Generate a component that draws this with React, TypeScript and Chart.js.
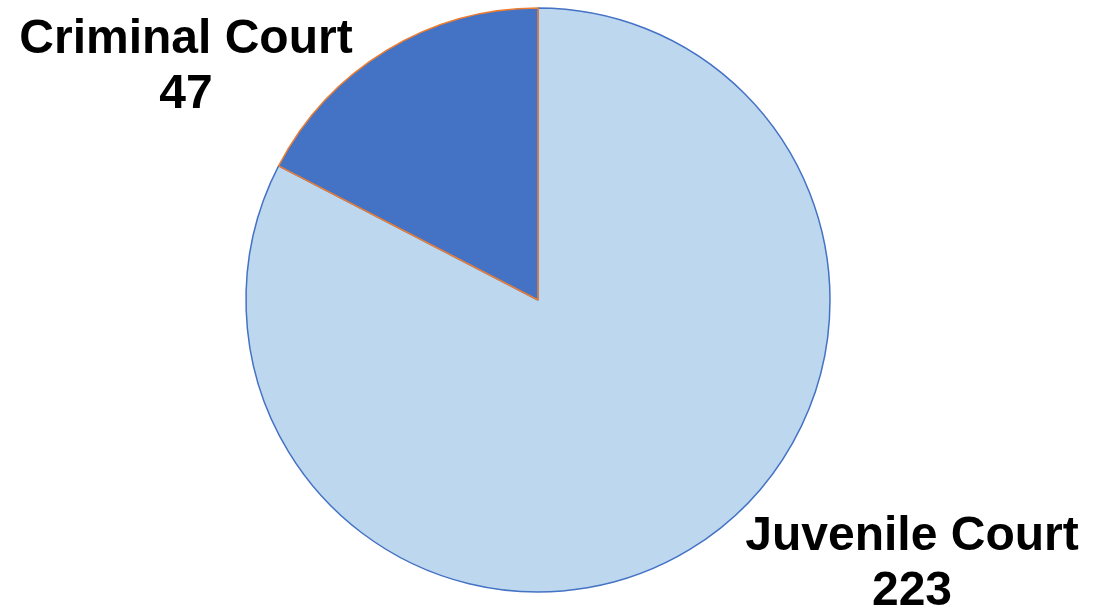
import React, { useEffect, useRef } from "react";
import { Chart, registerables } from "chart.js";

Chart.register(...registerables);

const categories = ["Juvenile Court", "Criminal Court"];
const counts = [223, 47];
const fillColors = ["#BDD7EE", "#4472C4"];
const borderColors = ["#4472C4", "#ED7D31"];
// label anchor offsets relative to pie centre, in units of radius
const labelOffsets = [
  { dx: 374 / 292, dy: 250 / 292 },
  { dx: -352 / 292, dy: -247 / 292 },
];

const labelPlugin = {
  id: "sliceLabels",
  afterDatasetsDraw(chart: any) {
    const meta = chart.getDatasetMeta(0);
    const ctx = chart.ctx;
    ctx.save();
    ctx.font = "bold 48px 'Liberation Sans', Arial, sans-serif";
    ctx.fillStyle = "#000000";
    ctx.textAlign = "center";
    ctx.textBaseline = "alphabetic";
    meta.data.forEach((arc: any, i: number) => {
      const r = arc.outerRadius;
      const x = arc.x + labelOffsets[i].dx * r;
      const y = arc.y + labelOffsets[i].dy * r;
      ctx.fillText(categories[i], x, y);
      ctx.fillText(String(counts[i]), x, y + 55);
    });
    ctx.restore();
  },
};

export default function App() {
  const ref = useRef<HTMLCanvasElement | null>(null);
  useEffect(() => {
    document.body.style.margin = "0";
    const chart = new Chart(ref.current as HTMLCanvasElement, {
      type: "pie",
      data: {
        labels: categories,
        datasets: [
          {
            data: counts,
            backgroundColor: fillColors,
            borderColor: borderColors,
            borderWidth: 1.5,
          },
        ],
      },
      options: {
        animation: false,
        responsive: false,
        radius: 292,
        layout: { padding: { left: 246, right: 272, top: 8, bottom: 14 } },
        plugins: { legend: { display: false }, tooltip: { enabled: false } },
      } as any,
      plugins: [labelPlugin],
    });
    return () => chart.destroy();
  }, []);
  return (
    <div style={{ width: 1102, height: 606, background: "#ffffff" }}>
      <canvas ref={ref} width={1102} height={606} style={{ display: "block" }} />
    </div>
  );
}
